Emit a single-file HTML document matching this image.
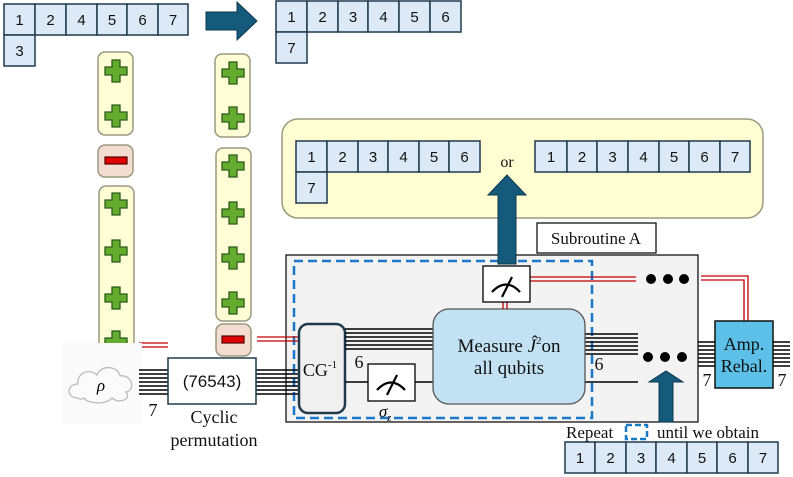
<!DOCTYPE html>
<html><head><meta charset="utf-8"><style>
html,body{margin:0;padding:0;background:#fff}
svg{display:block}
.c{fill:#dce9f6;stroke:#1e3a4c;stroke-width:1.5}
.ct{font-family:"Liberation Sans",sans-serif;font-size:15px;fill:#111;text-anchor:middle}
.s{font-family:"Liberation Serif",serif;fill:#111;text-anchor:middle}
.py{fill:#fefdd6;stroke:#9a9a80;stroke-width:1.5}
.pm{fill:#f3dcd0;stroke:#9a9a80;stroke-width:1.5}
.w line{stroke:#000;stroke-width:1.6}
.r{stroke:#c00000;stroke-width:1.3;fill:none}
</style></head><body>
<svg width="793" height="477" viewBox="0 0 793 477" xmlns="http://www.w3.org/2000/svg">
<defs>
<g id="plus"><path d="M-4,-11h8v7h7v8h-7v7h-8v-7h-7v-8h7z" fill="#63ac2e" stroke="#2e5a1a" stroke-width="1.3"/></g>
<g id="minus"><rect x="-11" y="-4" width="22" height="7" fill="#e00000" stroke="#500" stroke-width="1.2"/></g>
<g id="meter"><path d="M-14,7 Q0,-8 14,7" fill="none" stroke="#000" stroke-width="2.2"/><line x1="-4" y1="12" x2="6" y2="-8" stroke="#000" stroke-width="2.2"/></g>
</defs>

<g>
<rect class="c" x="4" y="4" width="31" height="31"/><text class="ct" x="19.5" y="25">1</text>
<rect class="c" x="35" y="4" width="31" height="31"/><text class="ct" x="50.5" y="25">2</text>
<rect class="c" x="66" y="4" width="31" height="31"/><text class="ct" x="81.5" y="25">4</text>
<rect class="c" x="97" y="4" width="30" height="31"/><text class="ct" x="112" y="25">5</text>
<rect class="c" x="127" y="4" width="31" height="31"/><text class="ct" x="142.5" y="25">6</text>
<rect class="c" x="158" y="4" width="30" height="31"/><text class="ct" x="173" y="25">7</text>
<rect class="c" x="4" y="35" width="31" height="31"/><text class="ct" x="19.5" y="56">3</text>
</g>
<path d="M206,12h31v-10l20,19l-20,19v-10h-31z" fill="#155a7a" stroke="#0d3a50" stroke-width="1"/>
<g>
<rect class="c" x="276" y="1" width="31" height="31"/><text class="ct" x="291.5" y="22">1</text>
<rect class="c" x="307" y="1" width="31" height="31"/><text class="ct" x="322.5" y="22">2</text>
<rect class="c" x="338" y="1" width="30" height="31"/><text class="ct" x="353" y="22">3</text>
<rect class="c" x="368" y="1" width="31" height="31"/><text class="ct" x="383.5" y="22">4</text>
<rect class="c" x="399" y="1" width="31" height="31"/><text class="ct" x="414.5" y="22">5</text>
<rect class="c" x="430" y="1" width="31" height="31"/><text class="ct" x="445.5" y="22">6</text>
<rect class="c" x="276" y="32" width="31" height="31"/><text class="ct" x="291.5" y="53">7</text>
</g>

<rect class="py" x="98" y="52" width="35" height="83" rx="7"/>
<use href="#plus" x="116" y="71"/><use href="#plus" x="116" y="116"/>
<rect class="pm" x="98" y="145" width="35" height="32" rx="7"/>
<use href="#minus" x="116" y="161"/>
<rect class="py" x="99" y="186" width="35" height="172" rx="7"/>
<use href="#plus" x="116" y="204"/><use href="#plus" x="116" y="251"/><use href="#plus" x="116" y="298"/><use href="#plus" x="116" y="342"/>

<rect class="py" x="215" y="54" width="35" height="83" rx="7"/>
<use href="#plus" x="233" y="73"/><use href="#plus" x="233" y="118"/>
<rect class="py" x="216" y="148" width="35" height="173" rx="7"/>
<use href="#plus" x="233" y="166"/><use href="#plus" x="233" y="213"/><use href="#plus" x="233" y="258"/><use href="#plus" x="233" y="303"/>
<rect class="pm" x="216" y="324" width="35" height="32" rx="7"/>
<use href="#minus" x="233" y="340"/>

<line class="r" x1="139" y1="343" x2="168" y2="343"/><line class="r" x1="139" y1="347" x2="168" y2="347"/>

<rect x="282" y="119" width="481" height="99" rx="16" fill="#fffdd2" stroke="#9a9a80" stroke-width="1.5"/>
<g>
<rect class="c" x="296" y="141" width="31" height="31"/><text class="ct" x="311.5" y="162">1</text>
<rect class="c" x="327" y="141" width="31" height="31"/><text class="ct" x="342.5" y="162">2</text>
<rect class="c" x="358" y="141" width="30" height="31"/><text class="ct" x="373" y="162">3</text>
<rect class="c" x="388" y="141" width="31" height="31"/><text class="ct" x="403.5" y="162">4</text>
<rect class="c" x="419" y="141" width="30" height="31"/><text class="ct" x="434" y="162">5</text>
<rect class="c" x="449" y="141" width="31" height="31"/><text class="ct" x="464.5" y="162">6</text>
<rect class="c" x="296" y="172" width="31" height="31"/><text class="ct" x="311.5" y="193">7</text>
</g>
<text class="s" x="507" y="167" style="font-size:16px">or</text>
<g>
<rect class="c" x="535" y="141" width="32" height="31"/><text class="ct" x="551" y="162">1</text>
<rect class="c" x="567" y="141" width="30" height="31"/><text class="ct" x="582" y="162">2</text>
<rect class="c" x="597" y="141" width="31" height="31"/><text class="ct" x="612.5" y="162">3</text>
<rect class="c" x="628" y="141" width="31" height="31"/><text class="ct" x="643.5" y="162">4</text>
<rect class="c" x="659" y="141" width="30" height="31"/><text class="ct" x="674" y="162">5</text>
<rect class="c" x="689" y="141" width="31" height="31"/><text class="ct" x="704.5" y="162">6</text>
<rect class="c" x="720" y="141" width="30" height="31"/><text class="ct" x="735" y="162">7</text>
</g>

<rect x="537" y="223" width="119" height="30" fill="#fff" stroke="#000" stroke-width="1.2"/>
<text class="s" x="596" y="244" style="font-size:17px">Subroutine A</text>

<rect x="286" y="255" width="412" height="167" fill="#f3f3f3" stroke="#000" stroke-width="1.2"/>
<rect x="294" y="261" width="298" height="157" fill="none" stroke="#1a78c8" stroke-width="2.5" stroke-dasharray="9,5"/>

<rect x="62" y="343" width="80" height="80" fill="#fafafa"/>
<path d="M78,398 C66,398 66,384 78,384 C76,373 90,368 97,375 C101,364 118,366 120,376 C132,374 136,390 126,392 C132,400 118,404 112,398 C106,405 88,404 84,398 C82,400 79,399 78,398z" fill="#fbfbfb" stroke="#bbb" stroke-width="1.3"/>
<text x="101" y="391" style="font-family:'Liberation Serif',serif;font-style:italic;font-size:17px" text-anchor="middle">ρ</text>

<g class="w">
<line x1="139" y1="370" x2="168" y2="370"/><line x1="139" y1="374" x2="168" y2="374"/><line x1="139" y1="378" x2="168" y2="378"/><line x1="139" y1="382" x2="168" y2="382"/><line x1="139" y1="386" x2="168" y2="386"/><line x1="139" y1="390" x2="168" y2="390"/><line x1="139" y1="394" x2="168" y2="394"/>
<line x1="256" y1="370" x2="300" y2="370"/><line x1="256" y1="374" x2="300" y2="374"/><line x1="256" y1="378" x2="300" y2="378"/><line x1="256" y1="382" x2="300" y2="382"/><line x1="256" y1="386" x2="300" y2="386"/><line x1="256" y1="390" x2="300" y2="390"/><line x1="256" y1="394" x2="300" y2="394"/>
</g>
<rect x="168" y="358" width="88" height="46" fill="#fff" stroke="#1e3a4c" stroke-width="1.5"/>
<text class="ct" x="212" y="387" style="font-size:17px">(76543)</text>
<text class="s" x="153" y="416" style="font-size:18px">7</text>
<text class="s" x="214" y="423" style="font-size:18px">Cyclic</text>
<text class="s" x="214" y="446" style="font-size:18px">permutation</text>

<line class="r" x1="257" y1="337" x2="300" y2="337"/><line class="r" x1="257" y1="341" x2="300" y2="341"/>

<rect x="299" y="324" width="46" height="89" rx="9" fill="#f0f0f0" stroke="#1e3a4c" stroke-width="2.5"/>
<text class="s" x="320" y="376" style="font-size:18px">CG<tspan style="font-size:11px" dy="-8">-1</tspan></text>

<g class="w">
<line x1="345" y1="329" x2="434" y2="329"/><line x1="345" y1="333" x2="434" y2="333"/><line x1="345" y1="337" x2="434" y2="337"/><line x1="345" y1="341" x2="434" y2="341"/><line x1="345" y1="345" x2="434" y2="345"/><line x1="345" y1="349" x2="434" y2="349"/>
<line x1="345" y1="382" x2="434" y2="382"/>
<line x1="585" y1="334" x2="638" y2="334"/><line x1="585" y1="338" x2="638" y2="338"/><line x1="585" y1="342" x2="638" y2="342"/><line x1="585" y1="346" x2="638" y2="346"/><line x1="585" y1="350" x2="638" y2="350"/><line x1="585" y1="354" x2="638" y2="354"/>
<line x1="585" y1="382" x2="638" y2="382"/>
<line x1="698" y1="342" x2="715" y2="342"/><line x1="698" y1="346" x2="715" y2="346"/><line x1="698" y1="350" x2="715" y2="350"/><line x1="698" y1="354" x2="715" y2="354"/><line x1="698" y1="358" x2="715" y2="358"/><line x1="698" y1="362" x2="715" y2="362"/><line x1="698" y1="366" x2="715" y2="366"/>
<line x1="773" y1="342" x2="790" y2="342"/><line x1="773" y1="346" x2="790" y2="346"/><line x1="773" y1="350" x2="790" y2="350"/><line x1="773" y1="354" x2="790" y2="354"/><line x1="773" y1="358" x2="790" y2="358"/><line x1="773" y1="362" x2="790" y2="362"/><line x1="773" y1="366" x2="790" y2="366"/>
</g>
<text class="s" x="359" y="368" style="font-size:18px">6</text>
<text class="s" x="599" y="370" style="font-size:18px">6</text>

<rect x="368" y="364" width="47" height="37" fill="#fff" stroke="#000" stroke-width="1.3"/>
<use href="#meter" x="391" y="383"/>
<text x="385" y="417" style="font-family:'Liberation Serif',serif;font-style:italic;font-size:17px" text-anchor="middle">σ<tspan style="font-size:10px" dy="4">z</tspan></text>

<rect x="433" y="309" width="152" height="95" rx="16" fill="#c2e2f3" stroke="#555" stroke-width="1.3"/>
<text class="s" x="509" y="352" style="font-size:19px">Measure <tspan style="font-style:italic">Ĵ</tspan><tspan style="font-size:11px" dy="-8">2</tspan><tspan dy="8">on</tspan></text>
<text class="s" x="509" y="374" style="font-size:19px">all qubits</text>

<line class="r" x1="503" y1="302" x2="503" y2="309"/><line class="r" x1="507" y1="302" x2="507" y2="309"/>
<line class="r" x1="530" y1="277" x2="636" y2="277"/><line class="r" x1="530" y1="281" x2="636" y2="281"/>
<path class="r" d="M701,276H748V321"/><path class="r" d="M701,280H744V321"/>
<path d="M498,264V195h-10l19,-20l19,20h-10V264z" fill="#155a7a" stroke="#0d3a50" stroke-width="1"/>
<rect x="483" y="266" width="47" height="36" fill="#fff" stroke="#000" stroke-width="1.3"/>
<use href="#meter" x="506" y="285"/>

<circle cx="651" cy="279" r="5"/><circle cx="668" cy="279" r="5"/><circle cx="684" cy="279" r="5"/>
<circle cx="648" cy="357" r="5"/><circle cx="665" cy="357" r="5"/><circle cx="682" cy="357" r="5"/>

<rect x="715" y="321" width="58" height="67" fill="#5dc0e8" stroke="#111" stroke-width="1.5"/>
<text class="s" x="744" y="350" style="font-size:18px">Amp.</text>
<text class="s" x="744" y="372" style="font-size:18px">Rebal.</text>
<text class="s" x="707" y="386" style="font-size:18px">7</text>
<text class="s" x="782" y="386" style="font-size:18px">7</text>

<path d="M659,422V382h-10l17,-11l17,11h-10V422z" fill="#155a7a" stroke="#0d3a50" stroke-width="1"/>

<text class="s" x="566" y="438" style="font-size:17px;text-anchor:start">Repeat</text>
<rect x="626" y="425" width="21" height="14" fill="none" stroke="#1a78c8" stroke-width="2.5" stroke-dasharray="6,3"/>
<text class="s" x="657" y="438" style="font-size:17px;text-anchor:start">until we obtain</text>
<g>
<rect class="c" x="565" y="442" width="30" height="31"/><text class="ct" x="580" y="463">1</text>
<rect class="c" x="595" y="442" width="31" height="31"/><text class="ct" x="610.5" y="463">2</text>
<rect class="c" x="626" y="442" width="30" height="31"/><text class="ct" x="641" y="463">3</text>
<rect class="c" x="656" y="442" width="31" height="31"/><text class="ct" x="671.5" y="463">4</text>
<rect class="c" x="687" y="442" width="30" height="31"/><text class="ct" x="702" y="463">5</text>
<rect class="c" x="717" y="442" width="31" height="31"/><text class="ct" x="732.5" y="463">6</text>
<rect class="c" x="748" y="442" width="30" height="31"/><text class="ct" x="763" y="463">7</text>
</g>
</svg>
</body></html>
